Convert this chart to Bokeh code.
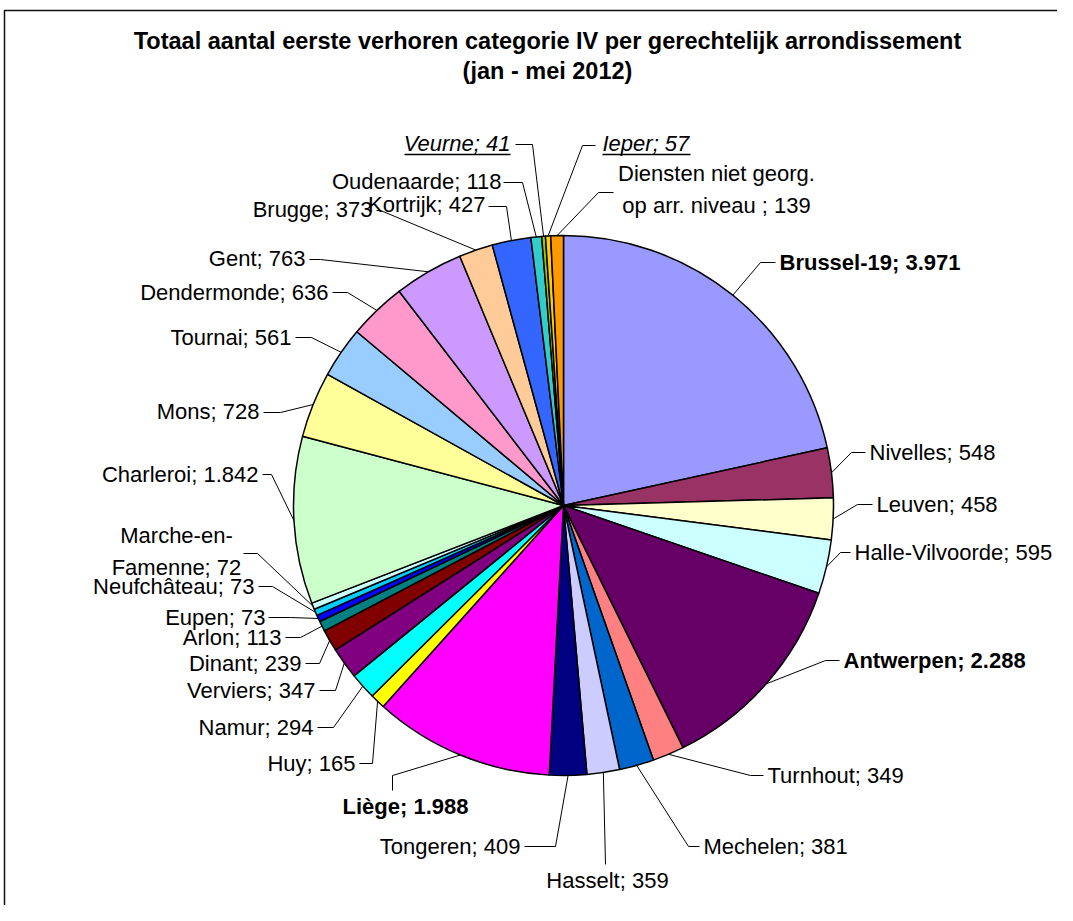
import numpy as np
from bokeh.plotting import figure
from bokeh.models import Range1d, ColumnDataSource
from bokeh.embed import file_html
from bokeh.resources import INLINE
from bokeh.core.properties import value

# ---------------- data ----------------
districts = ["Brussel-19", "Nivelles", "Leuven", "Halle-Vilvoorde", "Antwerpen",
             "Turnhout", "Mechelen", "Hasselt", "Tongeren", "Liège", "Huy", "Namur",
             "Verviers", "Dinant", "Arlon", "Eupen", "Neufchâteau",
             "Marche-en-\nFamenne", "Charleroi", "Mons", "Tournai", "Dendermonde",
             "Gent", "Brugge", "Kortrijk", "Oudenaarde", "Veurne", "Ieper",
             "Diensten niet georg.\nop arr. niveau "]
counts = [3971, 548, 458, 595, 2288, 349, 381, 359, 409, 1988, 165, 294, 347, 239,
          113, 73, 73, 72, 1842, 728, 561, 636, 763, 373, 427, 118, 41, 57, 139]
colors = ["#9999FF", "#993366", "#FFFFCC", "#CCFFFF", "#660066", "#FF8080", "#0066CC",
          "#CCCCFF", "#000080", "#FF00FF", "#FFFF00", "#00FFFF", "#800080", "#800000",
          "#008080", "#0000FF", "#00CCFF", "#CCFFFF", "#CCFFCC", "#FFFF99", "#99CCFF",
          "#FF99CC", "#CC99FF", "#FFCC99", "#3366FF", "#33CCCC", "#99CC00", "#FFCC00",
          "#FF9900"]
bold_names = ["Brussel-19", "Antwerpen", "Liège"]
italic_names = ["Veurne", "Ieper"]
title_lines = ["Totaal aantal eerste verhoren categorie IV per gerechtelijk arrondissement",
               "(jan - mei 2012)"]

# ---------------- layout (reference pixel coords) ----------------
# (text_x, text_y, align, attach_x, attach_y, elbow_x, elbow_y)
label_layout = [
    (779, 262, "left", 775, 262, 760, 262),
    (869, 452, "left", 865, 452, 851, 452),
    (876, 504, "left", 872, 504, 857, 504),
    (854, 552, "left", 850, 552, 840, 552),
    (843, 660, "left", 839, 660, 825, 660),
    (767, 775, "left", 763, 775, 750, 775),
    (703, 846, "left", 699, 846, 688, 846),
    (607, 880, "center", 605, 864, 605, 864),
    (520, 846, "right", 524, 846, 555, 846),
    (468, 806, "right", 392, 790, 392, 775),
    (355, 763, "right", 359, 763, 372, 763),
    (313, 727, "right", 317, 727, 333, 727),
    (315, 690, "right", 319, 690, 335, 690),
    (301, 663, "right", 305, 663, 319, 663),
    (281, 637, "right", 285, 637, 300, 637),
    (265, 617, "right", 268, 617, 290, 617),
    (254, 586, "right", 258, 586, 272, 586),
    (176, 551, "center", 243, 553, 257, 553),
    (258, 474, "right", 262, 474, 271, 474),
    (259, 411, "right", 263, 412, 280, 412),
    (291, 337, "right", 295, 337, 311, 337),
    (328, 292, "right", 332, 292, 347, 292),
    (305, 258, "right", 309, 259, 320, 259),
    (372, 209, "right", 376, 210, 380, 210),
    (485, 204, "right", 488, 206, 506, 206),
    (501, 181, "right", 503, 182, 522, 182),
    (510, 143, "right", 515, 144, 532, 144),
    (602, 143, "left", 595, 145, 582, 145),
    (716, 189, "center", 613, 192, 598, 192),
]
underline_spans = {"Veurne": (404, 510), "Ieper": (602, 690)}
W, H = 1057, 905
CX, CY, R = 563, 505, 270
FONT = "Liberation Sans"


def Y(v):
    return H - v


def fmt(n):
    return f"{n:,}".replace(",", ".")


p = figure(width=W, height=H, x_range=Range1d(0, W), y_range=Range1d(0, H),
           output_backend="svg", toolbar_location=None, x_axis_type=None, y_axis_type=None,
           min_border=0, outline_line_color=None, background_fill_color="white")
p.grid.visible = False

# frame
p.line(x=[4, 4, W], y=[Y(H), Y(10), Y(10)], line_color="#111111", line_width=1.5)

# pie
vals = np.array(counts, dtype=float)
frac = vals / vals.sum()
cum_end = np.cumsum(frac)
cum_start = cum_end - frac
src = ColumnDataSource(dict(
    start=np.pi / 2 - 2 * np.pi * cum_end,
    end=np.pi / 2 - 2 * np.pi * cum_start,
    color=colors,
))
p.wedge(x=CX, y=Y(CY), radius=R, start_angle="start", end_angle="end", direction="anticlock",
        fill_color="color", line_color="black", line_width=1.5, source=src)

# leaders
mid = 2 * np.pi * (cum_start + cum_end) / 2
xs, ys = [], []
for i, lay in enumerate(label_layout):
    ex = CX + R * np.sin(mid[i])
    ey = CY - R * np.cos(mid[i])
    _, _, _, ax, ay, bx, by = lay
    xs.append([ax, bx, ex])
    ys.append([Y(ay), Y(by), Y(ey)])
p.multi_line(xs=xs, ys=ys, line_color="black", line_width=1)

# labels
texts, tx, ty, aligns, styles = [], [], [], [], []
for name, c, lay in zip(districts, counts, label_layout):
    texts.append(f"{name}; {fmt(c)}")
    tx.append(lay[0])
    ty.append(Y(lay[1]))
    aligns.append(lay[2])
    if name in bold_names:
        styles.append("bold")
    elif name in italic_names:
        styles.append("italic")
    else:
        styles.append("normal")
lsrc = ColumnDataSource(dict(x=tx, y=ty, text=texts, align=aligns, style=styles))
p.text(x="x", y="y", text="text", text_align="align", text_font_style="style",
       text_baseline="middle", text_font=value(FONT), text_font_size="22px",
       text_line_height=1.25, text_color="black", source=lsrc)

# underlines for italic labels
ux, uy = [], []
for name, lay in zip(districts, label_layout):
    if name in underline_spans:
        x0, x1 = underline_spans[name]
        ux.append([x0, x1])
        uy.append([Y(lay[1] + 11), Y(lay[1] + 11)])
p.multi_line(xs=ux, ys=uy, line_color="black", line_width=1.5)

# title
p.text(x=[547, 547], y=[Y(40), Y(70)], text=title_lines, text_align="center",
       text_baseline="middle", text_font=value(FONT), text_font_style="bold",
       text_font_size="23.5px", text_color="black")

open("out.html", "w").write(file_html(p, INLINE))
